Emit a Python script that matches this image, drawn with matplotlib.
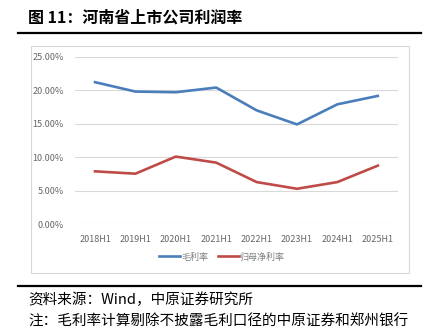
import matplotlib.pyplot as plt
from matplotlib.patches import Rectangle
from matplotlib.lines import Line2D
from matplotlib.ticker import FuncFormatter

plt.rcParams['font.family'] = ['Noto Sans CJK SC', 'DejaVu Sans']

periods = ["2018H1", "2019H1", "2020H1", "2021H1", "2022H1", "2023H1", "2024H1", "2025H1"]
gross_margin = [0.212, 0.198, 0.197, 0.204, 0.170, 0.149, 0.179, 0.1915]
net_margin = [0.079, 0.0755, 0.101, 0.092, 0.063, 0.053, 0.063, 0.0875]

W, H = 433, 329
fig = plt.figure(figsize=(W / 100, H / 100), dpi=100)


def fx(px):
    return px / W


def fy(py):
    return 1 - py / H


# header and footer text with the heavy rules
fig.text(fx(28), fy(18), "图 11：河南省上市公司利润率", fontsize=11.5, fontweight='bold',
         va='center', ha='left', color='black')
fig.add_artist(Line2D([fx(18), fx(421)], [fy(32.5), fy(32.5)], color='black', lw=1.6))
fig.add_artist(Line2D([fx(18), fx(421)], [fy(285.5), fy(285.5)], color='black', lw=1.6))
fig.text(fx(28), fy(300), "资料来源：Wind，中原证券研究所", fontsize=10.5,
         va='center', ha='left', color='black')
fig.text(fx(28), fy(314.5), "注：毛利率计算剔除不披露毛利口径的中原证券和郑州银行", fontsize=10.5,
         va='top', ha='left', color='black')

# chart frame
fig.add_artist(Rectangle((fx(30.5), fy(272.7)), fx(409) - fx(30.5), fy(45.7) - fy(272.7),
                         transform=fig.transFigure, fill=False, edgecolor='#d9d9d9', lw=0.8))

ax = fig.add_axes([fx(74.8), fy(224.3), fx(398) - fx(74.8), fy(56.7) - fy(224.3)])
x = range(len(periods))
ax.plot(x, gross_margin, color='#4a7ebb', lw=1.9, label='毛利率')
ax.plot(x, net_margin, color='#be4b48', lw=1.9, label='归母净利率')

ax.set_xlim(-0.5, len(periods) - 0.5)
ax.set_ylim(0, 0.25)
ax.set_yticks([0, 0.05, 0.10, 0.15, 0.20, 0.25])
ax.yaxis.set_major_formatter(FuncFormatter(lambda v, p: "%.2f%%" % (v * 100)))
ax.set_xticks(list(x))
ax.set_xticklabels(periods)
ax.grid(axis='y', color='#d9d9d9', lw=0.8)
ax.set_axisbelow(True)
for s in ax.spines.values():
    s.set_visible(False)
ax.tick_params(length=0, labelsize=6.5, labelcolor='#666666')
ax.tick_params(axis='x', pad=8)
ax.tick_params(axis='y', pad=8)

ax.legend(loc='center', bbox_to_anchor=(fx(222), fy(257), 0, 0), bbox_transform=fig.transFigure,
          ncol=2, frameon=False, fontsize=6.5, labelcolor='#7f7f7f', handlelength=2.3,
          handletextpad=0.1, columnspacing=1.1)

fig.savefig("out.png", dpi=100)
